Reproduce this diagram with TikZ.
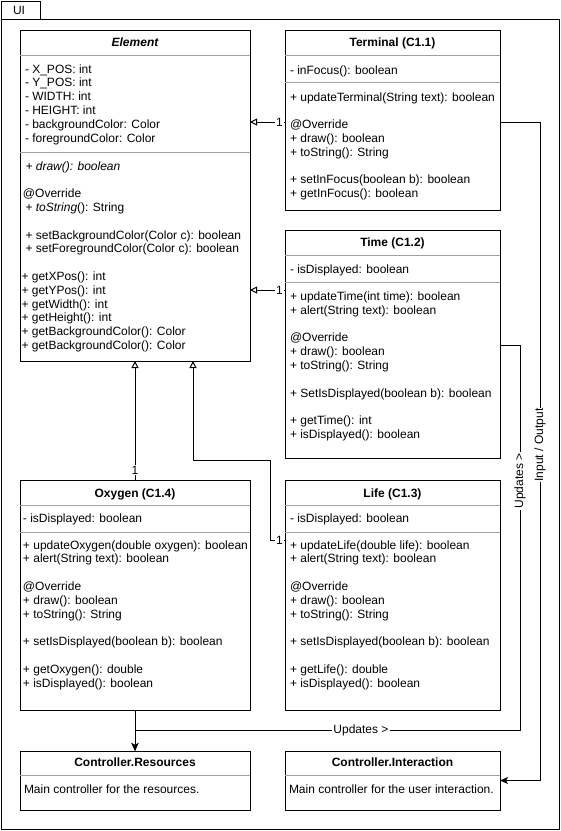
\documentclass[tikz,border=0pt]{standalone}
\usepackage{fontspec}
\setmainfont{Liberation Sans}
\usetikzlibrary{arrows.meta,calc}
\definecolor{sepgray}{HTML}{A0A0A0}
% invisible strut that fixes every text row to a 13.8pt pitch
\newcommand{\rw}{\vrule width 0pt height 9.7pt depth 4.1pt}

\begin{document}
\begin{tikzpicture}[x=1pt,y=-1pt,
  every node/.style={font=\fontsize{12}{13.8}\selectfont, inner sep=0pt, outer sep=0pt},
  classbox/.style={draw=black, line width=1pt, fill=white, rectangle, anchor=north west},
  sepline/.style={draw=sepgray, line width=1pt},
  rows/.style={anchor=north west, align=left},
  classtitle/.style={anchor=base, font=\fontsize{12}{13.8}\selectfont\bfseries},
  wire/.style={draw=black, line width=1pt},
  inherit/.style={wire, -{Triangle[open, length=7pt, width=7pt]}},
  assoc/.style={wire, -{Stealth[length=8pt, width=7pt, inset=2pt]}},
  mult/.style={fill=white, inner sep=1pt},
  elabel/.style={fill=white, inner sep=1pt}
]
\useasboundingbox (0,0) rectangle (561,831);
\fill[white] (0,0) rectangle (561,831);

% package frame with its tab
\draw[wire] (1,19) rectangle (559,829);
\draw[wire] (1,19) |- (40,1) -- (40,19);
\node[anchor=base west] (ui-label) at (13,14) {UI};

% ---------- class boxes ----------
\node[classbox, minimum width=230, minimum height=331] (elem)  at (20,30)  {};
\node[classbox, minimum width=215, minimum height=180] (term)  at (285,30) {};
\node[classbox, minimum width=215, minimum height=228] (time)  at (285,230) {};
\node[classbox, minimum width=230, minimum height=230] (oxy)   at (20,480) {};
\node[classbox, minimum width=215, minimum height=230] (life)  at (285,480) {};
\node[classbox, minimum width=230, minimum height=59]  (res)   at (20,751) {};
\node[classbox, minimum width=215, minimum height=59]  (inter) at (285,751) {};

% compartment separators
\draw[sepline] ($(elem.north west)+(0,25)$)  -- ($(elem.north east)+(0,25)$);
\draw[sepline] ($(elem.north west)+(0,122)$) -- ($(elem.north east)+(0,122)$);
\draw[sepline] ($(term.north west)+(0,25)$)  -- ($(term.north east)+(0,25)$);
\draw[sepline] ($(term.north west)+(0,52)$)  -- ($(term.north east)+(0,52)$);
\draw[sepline] ($(time.north west)+(0,25)$)  -- ($(time.north east)+(0,25)$);
\draw[sepline] ($(time.north west)+(0,52)$)  -- ($(time.north east)+(0,52)$);
\draw[sepline] ($(oxy.north west)+(0,25)$)   -- ($(oxy.north east)+(0,25)$);
\draw[sepline] ($(oxy.north west)+(0,52)$)   -- ($(oxy.north east)+(0,52)$);
\draw[sepline] ($(life.north west)+(0,25)$)  -- ($(life.north east)+(0,25)$);
\draw[sepline] ($(life.north west)+(0,52)$)  -- ($(life.north east)+(0,52)$);
\draw[sepline] ($(res.north west)+(0,24)$)   -- ($(res.north east)+(0,24)$);
\draw[sepline] ($(inter.north west)+(0,24)$) -- ($(inter.north east)+(0,24)$);

% ---------- Element ----------
\node[classtitle, font=\fontsize{12}{13.8}\selectfont\bfseries\itshape] (elem-title) at (135,46.5) {Element};
\node[rows] (elem-attrs) at (25,63.3) {\rw- X\_POS: int\\\rw- Y\_POS: int\\\rw- WIDTH: int\\\rw- HEIGHT: int\\\rw- backgroundColor: Color\\\rw- foregroundColor: Color};
\node[rows] (elem-ops) at (23,160.3) {\rw\hspace{2.5pt}\textit{+ draw(): boolean}\\\rw\\\rw@Override\\\rw\hspace{2.5pt}+ \textit{toString}(): String\\\rw\\\rw\hspace{2.5pt}+ setBackgroundColor(Color c): boolean\\\rw\hspace{2.5pt}+ setForegroundColor(Color c): boolean};
\node[rows] (elem-get) at (21.5,270.7) {\rw+ getXPos(): int\\\rw+ getYPos(): int\\\rw+ getWidth(): int\\\rw+ getHeight(): int\\\rw+ getBackgroundColor(): Color\\\rw+ getBackgroundColor(): Color};

% ---------- Terminal ----------
\node[classtitle] (term-title) at (392.5,46.5) {Terminal (C1.1)};
\node[rows] (term-attrs) at (290,64.3) {\rw- inFocus(): boolean};
\node[rows] (term-ops) at (290,91.3) {\rw+ updateTerminal(String text): boolean\\\rw\\\rw@Override\\\rw+ draw(): boolean\\\rw+ toString(): String\\\rw\\\rw+ setInFocus(boolean b): boolean\\\rw+ getInFocus(): boolean};

% ---------- Time ----------
\node[classtitle] (time-title) at (392.5,246.5) {Time (C1.2)};
\node[rows] (time-attrs) at (290,263.3) {\rw- isDisplayed: boolean};
\node[rows] (time-ops) at (290,290.8) {\rw+ updateTime(int time): boolean\\\rw+ alert(String text): boolean\\\rw\\\rw@Override\\\rw+ draw(): boolean\\\rw+ toString(): String\\\rw\\\rw+ SetIsDisplayed(boolean b): boolean\\\rw\\\rw+ getTime(): int\\\rw+ isDisplayed(): boolean};

% ---------- Oxygen ----------
\node[classtitle] (oxy-title) at (135,497.5) {Oxygen (C1.4)};
\node[rows] (oxy-attrs) at (23,512.3) {\rw- isDisplayed: boolean};
\node[rows] (oxy-ops) at (23,539.3) {\rw+ updateOxygen(double oxygen): boolean\\\rw+ alert(String text): boolean\\\rw\\\rw@Override\\\rw+ draw(): boolean\\\rw+ toString(): String\\\rw\\\rw+ setIsDisplayed(boolean b): boolean\\\rw\\\rw+ getOxygen(): double\\\rw+ isDisplayed(): boolean};

% ---------- Life ----------
\node[classtitle] (life-title) at (392.5,497.5) {Life (C1.3)};
\node[rows] (life-attrs) at (290,512.3) {\rw- isDisplayed: boolean};
\node[rows] (life-ops) at (290,539.3) {\rw+ updateLife(double life): boolean\\\rw+ alert(String text): boolean\\\rw\\\rw@Override\\\rw+ draw(): boolean\\\rw+ toString(): String\\\rw\\\rw+ setIsDisplayed(boolean b): boolean\\\rw\\\rw+ getLife(): double\\\rw+ isDisplayed(): boolean};

% ---------- controllers ----------
\node[classtitle] (res-title) at (135,766.5) {Controller.Resources};
\node[rows] (res-text) at (24,783.3) {\rw Main controller for the resources.};
\node[classtitle] (inter-title) at (392.5,766.5) {Controller.Interaction};
\node[rows] (inter-text) at (289,783.3) {\rw Main controller for the user interaction.};

% ---------- ports ----------
\coordinate (term-in)  at ($(term.north west)+(0,92)$);
\coordinate (term-out) at ($(term.north east)+(0,92)$);
\coordinate (time-in)  at ($(time.north west)+(0,60)$);
\coordinate (time-out) at ($(time.north east)+(0,115)$);
\coordinate (life-in)  at ($(life.north west)+(0,60)$);
\coordinate (elem-s2)  at ($(elem.south west)+(173,0)$);

% ---------- generalisations ----------
\draw[inherit] (term-in) -- (elem.east |- term-in);
\draw[inherit] (time-in) -- (elem.east |- time-in);
\draw[inherit] (oxy.north) -- (elem.south -| oxy.north);
\draw[inherit] (life-in) -- ++(-15,0) -- ++(0,-80) -| (elem-s2);
\node[mult] (m-term) at ($(term-in)+(-5.5,0)$) {1};
\node[mult] (m-time) at ($(time-in)+(-5.5,0)$) {1};
\node[mult] (m-oxy)  at ($(oxy.north)+(0,-10)$) {1};
\node[mult] (m-life) at ($(life-in)+(-5.5,0)$) {1};

% ---------- associations ----------
\draw[assoc] (oxy.south) -- (res.north);
\draw[assoc] (time-out) -- ++(20,0) -- ++(0,385) -| (res.north);
\draw[assoc] (term-out) -- ++(40,0) |- (inter.east);
\node[elabel, rotate=90] (upd-v) at (520,481) {Updates >};
\node[elabel] (upd-h) at (361,730) {Updates >};
\node[elabel, rotate=90] (io) at (540,445) {Input / Output};
\end{tikzpicture}
\end{document}
